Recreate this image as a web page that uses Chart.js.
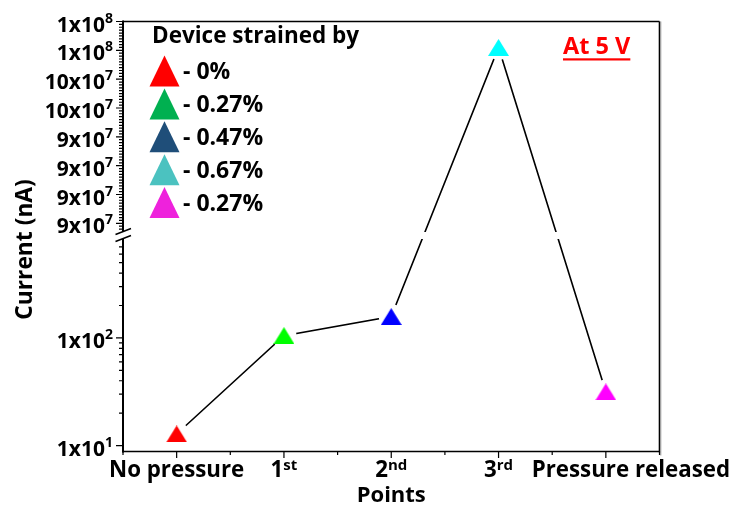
<!DOCTYPE html>
<html>
<head>
<meta charset="utf-8">
<script src="https://cdn.jsdelivr.net/npm/chart.js@4.4.1/dist/chart.umd.min.js"></script>
<style>
  html, body { margin: 0; padding: 0; background: #fff; }
  #wrap { width: 730px; height: 506px; }
</style>
</head>
<body>
<div id="wrap"><canvas id="chart" width="730" height="506"></canvas></div>
<script>
// ---- data ----
const categories = ['No pressure', '1st', '2nd', '3rd', 'Pressure released'];
const currentNA = [12.8, 105, 158, 1.002e8, 31.5];
const lowerTicks = [10, 100];
const upperTicks = [8.8e7, 9.0e7, 9.2e7, 9.4e7, 9.6e7, 9.8e7, 1.0e8, 1.02e8];
const lowerRange = [8.8, 830];          // log segment below the break
const upperRange = [8.74e7, 1.02e8];    // linear segment above the break
const legendTitle = 'Device strained by';
const legendLabels = ['- 0%', '- 0.27%', '- 0.47%', '- 0.67%', '- 0.27%'];
const xTitle = 'Points';
const yTitle = 'Current (nA)';
const noteText = 'At 5 V';

// ---- styles ----
const markerColors = ['#FF0000', '#00FF00', '#0000FF', '#00FFFF', '#FF00FF'];
const legendColors = ['#FF0000', '#00B050', '#1F4E79', '#4BC2C0', '#EE22DC'];
const FAMILY = "'Open Sans', 'Liberation Sans', sans-serif";
const font = px => `bold ${px}px ${FAMILY}`;
const SEG = { lowerShare: 0.4942, upperShare: 0.4895 };   // share of axis height per segment
const upperMinorStep = 0.02e7;
const labelShift = { 4: 25 };

// y axis: logarithmic below the break, linear above it
class BrokenAxisScale extends Chart.Scale {
  static id = 'brokenAxis';
  static defaults = {};
  determineDataLimits() { this.min = lowerRange[0]; this.max = upperRange[1]; }
  buildTicks() { return lowerTicks.concat(upperTicks).map(v => ({ value: v })); }
  segments() {
    const h = this.bottom - this.top;
    return { lowTop: this.bottom - h * SEG.lowerShare, upBottom: this.top + h * SEG.upperShare };
  }
  getPixelForValue(v) {
    const { lowTop, upBottom } = this.segments();
    if (v <= lowerRange[1]) {
      const a = Math.log10(lowerRange[0]), b = Math.log10(lowerRange[1]);
      return this.bottom - (Math.log10(v) - a) / (b - a) * (this.bottom - lowTop);
    }
    return upBottom - (v - upperRange[0]) / (upperRange[1] - upperRange[0]) * (upBottom - this.top);
  }
  getValueForPixel(p) {
    const { lowTop, upBottom } = this.segments();
    if (p >= lowTop) {
      const a = Math.log10(lowerRange[0]), b = Math.log10(lowerRange[1]);
      return Math.pow(10, a + (this.bottom - p) / (this.bottom - lowTop) * (b - a));
    }
    return upperRange[0] + (upBottom - p) / (upBottom - this.top) * (upperRange[1] - upperRange[0]);
  }
  getBasePixel() { return this.bottom; }
}
Chart.register(BrokenAxisScale);

function triangleImage(color, w, h) {
  const c = document.createElement('canvas');
  c.width = w; c.height = h;
  const g = c.getContext('2d');
  g.fillStyle = color;
  g.beginPath();
  g.moveTo(w / 2, 0); g.lineTo(w, h); g.lineTo(0, h);
  g.closePath(); g.fill();
  return c;
}
const markerImgs = markerColors.map(c => triangleImage(c, 21, 17));

function sciParts(v) {
  const e = Math.floor(Math.log10(v) + 1e-9);
  return { m: Math.round(v / Math.pow(10, e)), e };
}

function drawSup(ctx, main, sup, x, y, align, mainPx, supPx, rise) {
  ctx.font = font(mainPx);
  const wm = ctx.measureText(main).width;
  ctx.font = font(supPx);
  const ws = sup ? ctx.measureText(sup).width : 0;
  const total = wm + ws;
  const x0 = align === 'right' ? x - total : align === 'center' ? x - total / 2 : x;
  ctx.textAlign = 'left';
  ctx.textBaseline = 'alphabetic';
  ctx.font = font(mainPx);
  ctx.fillText(main, x0, y);
  if (sup) { ctx.font = font(supPx); ctx.fillText(sup, x0 + wm, y - rise); }
}

const framePlugin = {
  id: 'frame',
  afterDatasetsDraw(chart) {
    const { ctx, chartArea: a } = chart;
    const { lowTop, upBottom } = chart.scales.y.segments();
    ctx.save();
    ctx.fillStyle = '#fff';
    ctx.fillRect(a.left + 1, upBottom, a.right - a.left - 2, lowTop - upBottom);
    ctx.restore();
  },
  afterDraw(chart) {
    const { ctx, chartArea: a } = chart;
    const ys = chart.scales.y, xs = chart.scales.x;
    const { lowTop, upBottom } = ys.segments();
    ctx.save();
    ctx.strokeStyle = '#000';
    ctx.fillStyle = '#000';
    ctx.lineCap = 'butt';

    // frame: top, right, bottom, broken left axis
    ctx.lineWidth = 1.6;
    ctx.beginPath();
    ctx.moveTo(a.left, a.top); ctx.lineTo(a.right, a.top);
    ctx.moveTo(a.left - 1, a.bottom); ctx.lineTo(a.right, a.bottom);
    ctx.moveTo(a.right, a.top); ctx.lineTo(a.right, a.bottom + 1);
    ctx.stroke();
    ctx.strokeStyle = '#9a9a9a';
    ctx.lineWidth = 1;
    ctx.beginPath();
    ctx.moveTo(a.right + 1.3, a.top); ctx.lineTo(a.right + 1.3, a.bottom + 4);
    ctx.stroke();
    ctx.strokeStyle = '#000';
    ctx.lineWidth = 2;
    ctx.beginPath();
    ctx.moveTo(a.left, a.top - 1); ctx.lineTo(a.left, upBottom);
    ctx.moveTo(a.left, lowTop); ctx.lineTo(a.left, a.bottom + 1);
    ctx.stroke();
    // break marks
    ctx.lineWidth = 1.5;
    ctx.beginPath();
    ctx.moveTo(a.left - 7.5, upBottom + 2.5); ctx.lineTo(a.left + 8, upBottom - 3.5);
    ctx.moveTo(a.left - 7.5, lowTop + 2.5); ctx.lineTo(a.left + 8, lowTop - 3.5);
    ctx.stroke();

    // y ticks
    ctx.lineWidth = 1.2;
    const tick = (py, len) => { ctx.moveTo(a.left - len, py); ctx.lineTo(a.left, py); };
    ctx.beginPath();
    lowerTicks.concat(upperTicks).forEach(v => tick(ys.getPixelForValue(v), 7));
    for (let d = 1; d <= 100; d *= 10) {
      for (let m = 2; m <= 9; m++) {
        const v = m * d;
        if (v <= lowerRange[0] || v >= lowerRange[1]) continue;
        const py = ys.getPixelForValue(v);
        if (py > a.bottom - 2 || py < lowTop + 3) continue;
        tick(py, 4);
      }
    }
    for (let k = -5; k < 100; k++) {
      const v = upperTicks[0] + k * upperMinorStep;
      if (v < upperRange[0] || v > upperRange[1]) continue;
      if (upperTicks.some(t => Math.abs(t - v) < upperMinorStep / 10)) continue;
      const py = ys.getPixelForValue(v);
      if (py > upBottom - 1) continue;
      tick(py, 4);
    }
    ctx.stroke();

    // x ticks
    const n = categories.length;
    ctx.beginPath();
    categories.forEach((c, i) => {
      const px = xs.getPixelForValue(i);
      ctx.moveTo(px, a.bottom); ctx.lineTo(px, a.bottom + 6.5);
    });
    for (let i = 0; i <= n; i++) {
      const px = a.left + (a.right - a.left) * i / n;
      ctx.moveTo(px, a.bottom); ctx.lineTo(px, a.bottom + 3.5);
    }
    ctx.stroke();

    // y tick labels
    lowerTicks.concat(upperTicks).forEach(v => {
      const { m, e } = sciParts(v);
      drawSup(ctx, `${m}x10`, `${e}`, 113, ys.getPixelForValue(v) + 10, 'right', 21, 14, 9);
    });

    // x tick labels
    categories.forEach((c, i) => {
      const px = xs.getPixelForValue(i) + (labelShift[i] || 0);
      const mt = c.match(/^(\d+)(st|nd|rd|th)$/);
      drawSup(ctx, mt ? mt[1] : c, mt ? mt[2] : '', px, 476.5, 'center', 22.3, 15, 7);
    });

    // axis titles
    ctx.textAlign = 'center';
    ctx.textBaseline = 'alphabetic';
    ctx.font = font(22);
    ctx.fillText(xTitle, (a.left + a.right) / 2, 501.5);
    ctx.save();
    ctx.translate(31.5, 249.5);
    ctx.rotate(-Math.PI / 2);
    ctx.font = font(22.8);
    ctx.fillText(yTitle, 0, 0);
    ctx.restore();

    // legend
    ctx.textAlign = 'left';
    ctx.font = font(22.5);
    ctx.fillText(legendTitle, 152, 42.5);
    legendLabels.forEach((lab, i) => {
      const cy = 71 + i * 32.9;
      ctx.fillStyle = legendColors[i];
      ctx.beginPath();
      ctx.moveTo(164.5, cy - 15.5); ctx.lineTo(179.5, cy + 15.5); ctx.lineTo(149.5, cy + 15.5);
      ctx.closePath(); ctx.fill();
      ctx.fillStyle = '#000';
      ctx.font = font(23);
      ctx.fillText(lab, 183, cy + 8);
    });

    // voltage note
    ctx.fillStyle = '#FF0000';
    ctx.font = font(23.5);
    ctx.fillText(noteText, 563, 53.5);
    const w = ctx.measureText(noteText).width;
    ctx.fillRect(563, 58.3, w, 2.2);
    ctx.restore();
  }
};

new Chart(document.getElementById('chart'), {
  type: 'line',
  data: {
    labels: categories,
    datasets: [
      { label: 'markers', data: currentNA, showLine: false, pointRadius: 10, pointBorderWidth: 0,
        pointStyle: ctx => markerImgs[ctx.dataIndex] },
      { label: 'gaps', data: currentNA, showLine: false, pointRadius: 12.5, pointStyle: 'circle',
        pointBackgroundColor: '#fff', pointBorderWidth: 0 },
      { label: 'trend', data: currentNA, borderColor: '#000', borderWidth: 1.6, pointRadius: 0, tension: 0 }
    ]
  },
  options: {
    responsive: false,
    animation: false,
    events: [],
    devicePixelRatio: 1,
    layout: { padding: { top: 21.5, right: 70.5, left: 0, bottom: 0 } },
    plugins: { legend: { display: false }, tooltip: { enabled: false } },
    scales: {
      x: {
        type: 'category', offset: true,
        grid: { display: false, drawTicks: false }, border: { display: false }, ticks: { display: false },
        afterFit: s => { s.height = 54.5; }
      },
      y: {
        type: 'brokenAxis',
        grid: { display: false, drawTicks: false }, border: { display: false }, ticks: { display: false },
        afterFit: s => { s.width = 123; }
      }
    }
  },
  plugins: [framePlugin]
});
</script>
</body>
</html>
